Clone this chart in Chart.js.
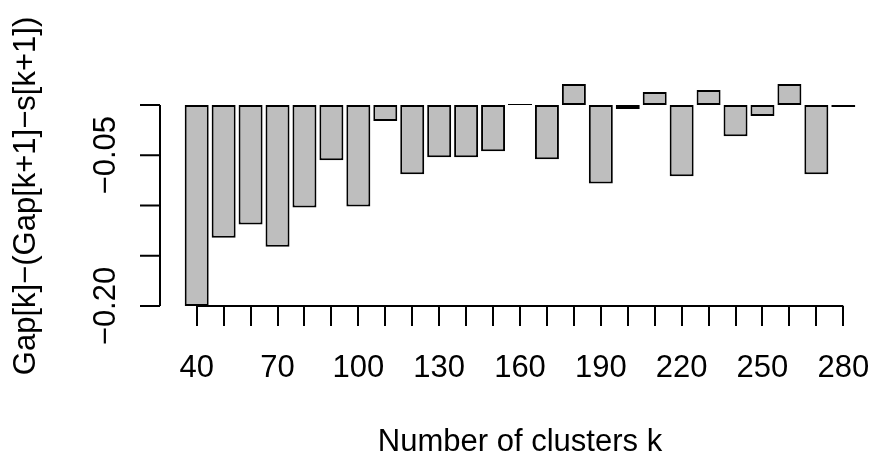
<!DOCTYPE html>
<html>
<head>
<meta charset="utf-8">
<script src="https://cdn.jsdelivr.net/npm/chart.js@4"></script>
<style>
  html, body { margin: 0; padding: 0; background: #ffffff; }
  canvas { display: block; }
</style>
</head>
<body>
<canvas id="c" width="872" height="455"></canvas>
<script>
// ---- data ----
const clusterK = [40, 50, 60, 70, 80, 90, 100, 110, 120, 130, 140, 150, 160,
                  170, 180, 190, 200, 210, 220, 230, 240, 250, 260, 270, 280];
const gapDiff = [-0.200, -0.132, -0.119, -0.141, -0.102, -0.055, -0.101, -0.016,
                 -0.069, -0.052, -0.052, -0.046, 0.001, -0.054, 0.021, -0.078,
                 -0.004, 0.013, -0.071, 0.015, -0.031, -0.011, 0.021, -0.069, -0.002];
const xTickLabels = ["40", "70", "100", "130", "160", "190", "220", "250", "280"];
const yTickValues = [-0.20, -0.15, -0.10, -0.05, 0.00];
const yTickLabels = ["\u22120.20", "", "", "\u22120.05", ""];
const xTitle = "Number of clusters k";
const yTitle = "Gap[k]\u2212(Gap[k+1]\u2212s[k+1])";

const FONT = '31px "Liberation Sans", Arial, Helvetica, sans-serif';

const rAxes = {
  id: 'rAxes',
  afterDraw(chart) {
    const ctx = chart.ctx;
    const xs = chart.scales.x, ys = chart.scales.y;
    const area = chart.chartArea;
    ctx.save();
    ctx.strokeStyle = '#000';
    ctx.fillStyle = '#000';
    ctx.lineWidth = 2;
    ctx.font = FONT;

    // x axis
    const xAxisY = area.bottom;
    const x0 = xs.getPixelForValue(clusterK[0]);
    const x1 = xs.getPixelForValue(clusterK[clusterK.length - 1]);
    ctx.beginPath();
    ctx.moveTo(x0, xAxisY);
    ctx.lineTo(x1, xAxisY);
    clusterK.forEach(k => {
      const px = Math.round(xs.getPixelForValue(k));
      ctx.moveTo(px, xAxisY);
      ctx.lineTo(px, xAxisY + 20);
    });
    ctx.stroke();
    ctx.textAlign = 'center';
    ctx.textBaseline = 'alphabetic';
    xTickLabels.forEach(l => {
      const px = xs.getPixelForValue(Number(l));
      ctx.fillText(l, px, 376.5);
    });
    // x title centered on R plot region
    ctx.fillText(xTitle, 520, 451);

    // y axis
    const yAxisX = area.left;
    const yTop = ys.getPixelForValue(yTickValues[yTickValues.length - 1]);
    const yBot = ys.getPixelForValue(yTickValues[0]);
    ctx.beginPath();
    ctx.moveTo(yAxisX, yTop);
    ctx.lineTo(yAxisX, yBot);
    yTickValues.forEach(v => {
      const py = ys.getPixelForValue(v);
      ctx.moveTo(yAxisX, py);
      ctx.lineTo(yAxisX - 20, py);
    });
    ctx.stroke();
    yTickValues.forEach((v, i) => {
      if (!yTickLabels[i]) return;
      const py = ys.getPixelForValue(v);
      ctx.save();
      ctx.translate(115, py);
      ctx.rotate(-Math.PI / 2);
      ctx.textAlign = 'center';
      ctx.fillText(yTickLabels[i], 0, 0);
      ctx.restore();
    });
    // y title
    ctx.save();
    ctx.translate(35, (area.top + area.bottom) / 2);
    ctx.rotate(-Math.PI / 2);
    ctx.textAlign = 'center';
    ctx.fillText(yTitle, 0, 0);
    ctx.restore();

    ctx.restore();
  }
};

new Chart(document.getElementById('c'), {
  type: 'bar',
  data: {
    datasets: [{
      data: clusterK.map((k, i) => ({ x: k, y: gapDiff[i] })),
      backgroundColor: '#BEBEBE',
      borderColor: '#000000',
      borderWidth: 2,
      borderSkipped: false,
      barPercentage: 0.89,
      categoryPercentage: 1.0,
      clip: false
    }]
  },
  options: {
    responsive: false,
    devicePixelRatio: 1,
    animation: false,
    events: [],
    layout: { padding: { left: 160, right: 12, top: 86, bottom: 149 } },
    plugins: { legend: { display: false }, tooltip: { enabled: false }, title: { display: false } },
    scales: {
      x: { type: 'linear', display: false, min: 26.38, max: 286.2, offset: false },
      y: { type: 'linear', display: false, min: -0.2, max: 0.0189 }
    }
  },
  plugins: [rAxes]
});
</script>
</body>
</html>
